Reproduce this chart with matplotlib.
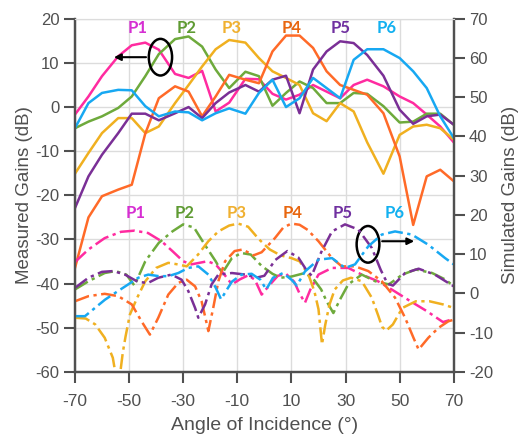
import matplotlib
matplotlib.use("Agg")
from matplotlib import pyplot as plt
from matplotlib.patches import Ellipse

# measured (left axis), same angles for every port
ang_meas = [-70, -65, -60, -54, -49, -44, -39, -33, -28, -23, -18, -13, -7, -2,
            3, 8, 13, 18, 23, 28, 33, 38, 44, 50, 55, 60, 65, 70]
p1_meas = [-1.7, 2.4, 7, 11.5, 14, 14.6, 13, 7.5, 6.6, 8.2, -1, 1, 6.4, 6.3,
           3, 1.7, 2.8, 5, 3.5, 2, 5, 6.2, 4.7, 2.4, 0.9, -1.7, -4.4, -8]
p2_meas = [-4.8, -3.3, -2.1, -0.2, 2.4, 7, 12, 15.4, 16, 13.7, 8.5, 4.3, 8, 7,
           0.3, 3.2, 5.8, 4.3, 0.9, 0.9, 3.2, 3, 0.2, -3.5, -3.3, -1.5, -1.5, -4]
p3_meas = [-15.1, -10.4, -5.9, -2.5, -2.5, -5.9, -4.4, 0.9, 5, 9.2, 13.1, 15.2, 14.6, 11.1,
           8.1, 6.6, 5, -1.4, -3.2, 0.9, -1, -8, -15.1, -6.3, -4.4, -4, -4.8, -7.4]
p4_meas = [-36.5, -25, -20.2, -18.7, -17.6, -6, 2, 4.7, 3.5, -2.1, 2.4, 7.3, 6.2, 5.4,
           12.6, 16.2, 16.2, 13.4, 8.1, 5, 3.9, 2.8, -1.4, -11.2, -26.7, -15.7, -14.2, -16.8]
p5_meas = [-22.9, -15.7, -10.8, -5.9, -1.5, -1.5, -3, -1.4, 0, -2.5, 0.9, 3.3, 5, 3.5,
           6.2, 7.1, -1.4, 8.5, 12.6, 14.9, 14.5, 11.8, 7.1, -0.6, -3.8, -2.1, -1.7, -4]
p6_meas = [-4.8, 0.9, 3.2, 3.9, 3.8, 0.2, -2.1, -1, -1.2, -3, -1.4, -0.3, -1.5, 3.2,
           6.2, 0, 2, 6.6, 4.3, 2, 10.7, 13.1, 13.1, 11.1, 8.1, 4.3, -2.1, -7]

# simulated (right axis)
p1_sim_ang = [-70, -65, -59, -53, -48, -43, -38, -34, -30, -27, -24, -21, -18, -15, -12,
              -9, -6, -3.5, -1, 2, 5, 8, 11, 13, 15, 17, 20, 25, 31, 36, 42, 48, 54, 60, 66, 70]
p1_sim = [8.0, 11.2, 14.1, 15.7, 16.0, 15.4, 13.3, 10.8, 8.2, 7.4, 7.8, 8.2, 7.4, 5.0, 2.3,
          3.6, 4.6, 3.5, -0.3, 2.2, 4.5, 5.0, 3.0, 0.0, -2.4, 1.0, 4.8, 6.5, 6.5, 4.8, 3.1, 0.6,
          -2.0, -4.5, -7.3, -6.5]
p2_sim_ang = [-70, -65, -59, -55, -51, -48, -44, -39, -34, -30, -26, -22, -18, -15.5, -12,
              -8.5, -5, -1, 3, 6, 10, 15, 18, 21, 23, 25.5, 28, 31, 36, 41, 46, 51, 56, 62, 67, 70]
p2_sim = [1.0, 3.1, 5.2, 5.7, 4.8, 2.0, 8.2, 12.9, 15.8, 17.6, 16.8, 12.4, 8.2, 5.2, 9.0,
          10.3, 9.9, 7.0, 5.0, 4.0, 4.3, 5.2, 3.8, 1.0, -2.0, -5.0, -1.5, 2.3, 4.8, 3.1, 2.3,
          4.8, 6.1, 5.2, 3.5, 1.8]
p3_sim_ang = [-70, -66, -62.5, -59, -56, -55, -54.2, -53.3, -52.3, -51.3, -49.7, -47, -44, -40,
              -35.5, -32, -28.7, -24.5, -20.7, -17, -13, -9.7, -6, -2, 2, 6, 10, 13, 16.3, 18.5,
              20, 21.3, 22.5, 24, 26, 29, 32, 36, 39.7, 42, 43.5, 45, 47.5, 51, 56, 61, 66, 70]
p3_sim = [-6.2, -6.4, -7.9, -11.3, -16.4, -20.5, -24, -20.5, -15, -11, -5.4, -1.1, 3.1, 6.5,
          7.8, 7.4, 6.9, 9.9, 13.3, 15.8, 17.3, 17.8, 17.0, 13.8, 11.2, 9.7, 9.0, 8.2, 4.8, 0.5,
          -4.0, -13.0, -8.0, -3.0, 1.0, 3.3, 4.0, 3.1, -1.1, -5.5, -8.5, -9.5, -7.9, -3.7, -2.0,
          -2.0, -2.8, -3.7]
p4_sim_ang = [-70, -65, -59, -54, -49, -45.4, -42.3, -39.2, -35.5, -31.8, -28.7, -25.6, -23.2,
              -21.5, -20.7, -18.9, -17, -14.5, -11, -8, -4, -1, 3.9, 7, 10, 13, 16, 20, 25,
              28.6, 33.5, 38.4, 43.4, 48.3, 52, 55.1, 57, 60.6, 64.3, 68, 70]
p4_sim = [-2.0, -0.7, -0.1, -0.7, -2.8, -7.1, -10.5, -6.2, -0.3, 2.7, 3.5, 1.8, -2.0,
          -7.1, -9.6, -3.7, 3.1, 8.2, 10.8, 11.2, 9.7, 10.5, 14.1, 16.8, 17.8, 17.5, 16.2, 13.3,
          9.0, 6.9, 6.9, 5.7, 3.1, -1.1, -6.2, -11.3, -14.3, -11.3, -8.8, -7.1, -6.7]
p5_sim_ang = [-70, -65, -60, -55.8, -51.5, -46.6, -42.9, -39.2, -34.3, -30.6, -28.1, -25.6,
              -24.4, -21.9, -19.5, -17, -12, -7, -3, 0, 4, 8.5, 12.5, 15.5, 17.5, 21, 25, 29.8,
              34.7, 39.7, 43, 45.5, 47.5, 52, 57, 63, 70]
p5_sim = [1.4, 4.0, 5.5, 5.7, 4.8, 2.9, 2.7, 4.0, 4.8, 3.5, 0.6, -3.7, -6.2, -2.8, 2.3, 4.8,
          5.2, 4.8, 4.0, 4.5, 8.5, 10.8, 9.2, 6.0, 4.5, 10.5, 15.8, 17.6, 16.3, 11.6, 6.0, 2.5,
          2.0, 5.2, 6.3, 4.8, 1.8]
p6_sim_ang = [-70, -66.3, -62.6, -58.9, -55.2, -50.3, -46.6, -42.9, -39, -35.5, -31.8, -28.1,
              -24.4, -20.7, -18, -16, -14, -12, -8.4, -4.7, -1.5, 0.7, 3.2, 6.9, 10, 12, 15, 20,
              25, 29.8, 33.5, 38.4, 43.4, 48.3, 54.5, 60.6, 66.8, 70]
p6_sim = [-5.8, -5.8, -3.7, -1.6, 0.1, 2.3, 4.0, 4.8, 4.4, 4.4, 5.2, 6.5, 6.9, 4.8, 1.5, -1.5,
          0.8, 3.0, 4.8, 5.0, 3.5, 1.0, 4.0, 5.2, 3.5, 2.0, 5.6, 8.6, 9.0, 6.5, 7.4, 12.0, 15.0,
          15.8, 15.0, 12.4, 9.0, 7.4]

names = ["P1", "P2", "P3", "P4", "P5", "P6"]
line_colors = ["#ff2ba0", "#6eaa3c", "#f0b020", "#ff6a28", "#7a2f96", "#17a8f2"]
label_colors = ["#d62ed2", "#5e9a32", "#f0b030", "#e8660f", "#7030a0", "#12b0f0"]
top_label_x = [-47, -28.7, -12, 10, 28.2, 45.3]
low_label_x = [-47.6, -29.4, -10.3, 10.6, 29.1, 48.2]

meas = [p1_meas, p2_meas, p3_meas, p4_meas, p5_meas, p6_meas]
sims = [(p1_sim_ang, p1_sim), (p2_sim_ang, p2_sim), (p3_sim_ang, p3_sim),
        (p4_sim_ang, p4_sim), (p5_sim_ang, p5_sim), (p6_sim_ang, p6_sim)]

plt.rcParams['font.family'] = ['Liberation Sans', 'DejaVu Sans']
plt.rcParams['axes.unicode_minus'] = False
gray = "#505050"

fig = plt.figure(figsize=(5.24, 4.37), dpi=100)
ax = fig.add_axes([0.143, 0.149, 0.723, 0.808])
ax2 = ax.twinx()

for vals, c in zip(meas, line_colors):
    ax.plot(ang_meas, vals, color=c, lw=1.8, zorder=3)
for (a, v), c in zip(sims, line_colors):
    ax2.plot(a, v, color=c, lw=1.8, dashes=(6, 1.8, 1.3, 1.8))

ax.set_xlim(-70, 70)
ax.set_ylim(-60, 20)
ax2.set_ylim(-20, 70)
ax.set_xticks(range(-70, 71, 20))
ax.set_yticks(range(-60, 21, 10))
ax2.set_yticks(range(-20, 71, 10))
ax.grid(True, color="#dcdcdc", lw=1)
ax.set_axisbelow(True)

for a in (ax, ax2):
    for s in ("left", "right", "bottom"):
        a.spines[s].set_color(gray)
        a.spines[s].set_linewidth(1.6)
    a.spines["top"].set_color("#dcdcdc")
    a.tick_params(direction="out", length=8, width=1.5, color=gray,
                  labelcolor=gray, labelsize=12, pad=3)
ax.tick_params(axis="x", pad=8, labelsize=12.5)

ax.set_xlabel("Angle of Incidence (°)", color=gray, fontsize=14, labelpad=6)
ax.set_ylabel("Measured Gains (dB)", color=gray, fontsize=13.5, labelpad=2)
ax2.set_ylabel("Simulated Gains (dB)", color=gray, fontsize=13.5, labelpad=6)

for n, c, xt, xl in zip(names, label_colors, top_label_x, low_label_x):
    ax.text(xt, 17.9, n, color=c, fontsize=12, fontweight="bold", family="Lato",
            ha="center", va="center", zorder=5)
    ax.text(xl, -24.0, n, color=c, fontsize=12, fontweight="bold", family="Lato",
            ha="center", va="center", zorder=5)

# ellipses with arrows pointing at the axis they belong to
ax.add_patch(Ellipse((-38.4, 11.3), 8.6, 8.3, fill=False, ec="black", lw=1.8, zorder=6))
ax.annotate("", xy=(-56.6, 11.3), xytext=(-42.7, 11.3), zorder=6,
            arrowprops=dict(arrowstyle="-|>", color="black", lw=1.5, mutation_scale=10))
ax.add_patch(Ellipse((38.3, -31.1), 8.4, 8.3, fill=False, ec="black", lw=1.8, zorder=6))
ax.annotate("", xy=(56.4, -30.4), xytext=(42.5, -30.4), zorder=6,
            arrowprops=dict(arrowstyle="-|>", color="black", lw=1.5, mutation_scale=10))

fig.savefig("out.png", dpi=100)
